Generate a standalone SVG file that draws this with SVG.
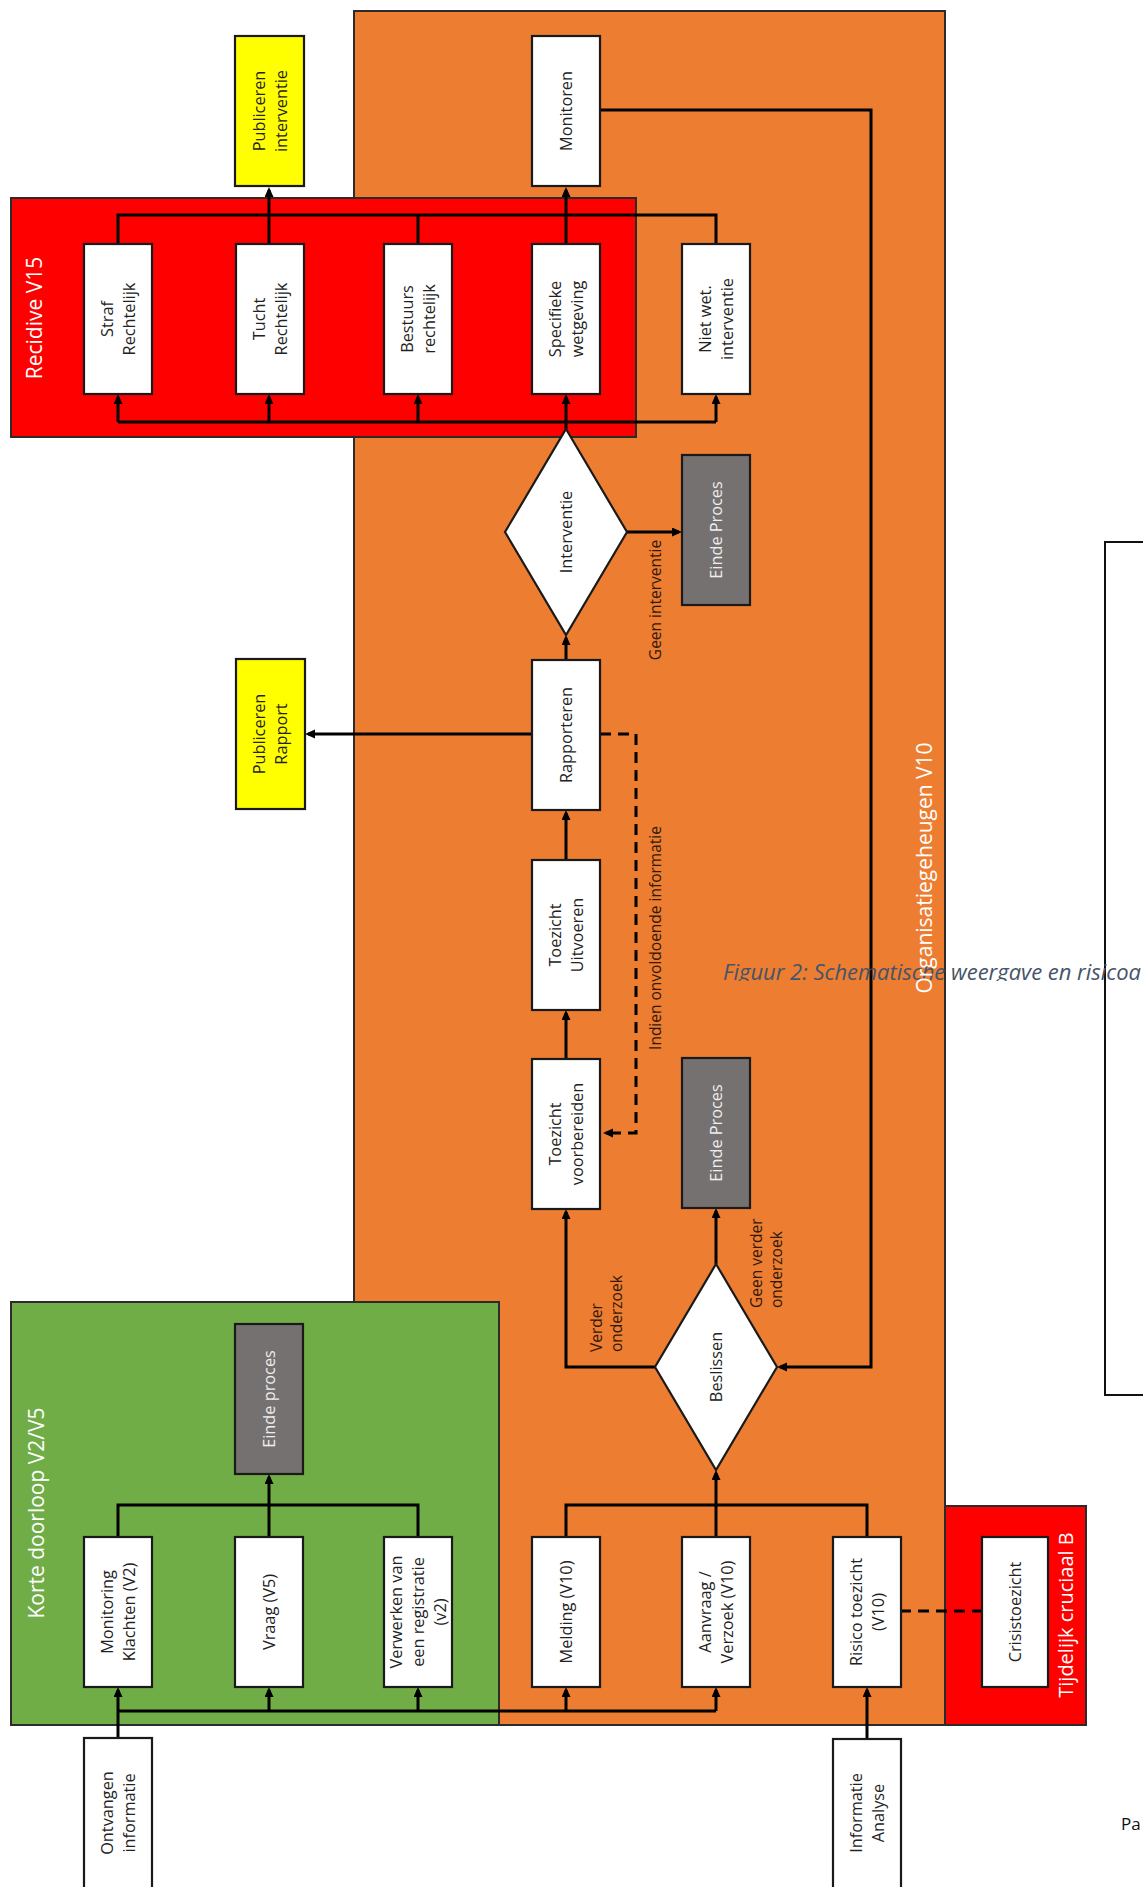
<svg xmlns="http://www.w3.org/2000/svg" width="1143" height="1887" viewBox="0 0 1143 1887">
<defs>
<marker id="ah" markerUnits="userSpaceOnUse" markerWidth="10" markerHeight="10" refX="7" refY="4.5" orient="auto"><path d="M0,0 L10,4.5 L0,9 z" fill="#000"/></marker>
<clipPath id="capclip"><rect x="0" y="900" width="1143" height="81"/></clipPath>
</defs>
<style>
.panel{stroke:#2b2b2b;stroke-width:2}
.node{fill:#fff;stroke:#1a1a1a;stroke-width:2.2}
.yel{fill:#FFFF00;stroke:#1a1a1a;stroke-width:2.2}
.end{fill:#767171;stroke:#1a1a1a;stroke-width:2.2}
.c{fill:none;stroke:#000;stroke-width:3}
.ca{fill:none;stroke:#000;stroke-width:3;marker-end:url(#ah)}
.d{fill:none;stroke:#000;stroke-width:3;stroke-dasharray:11 7}
text{font-family:"Open Sans","Liberation Sans",sans-serif}
.t{font-size:16.3px;fill:#222222;text-anchor:middle}
.te{font-size:16.3px;fill:#eeeeee;text-anchor:middle}
.h{font-size:21px;fill:#fff;text-anchor:middle}
.l{font-size:15.5px;fill:#33190a}
</style>
<g id="panels">
<rect id="organisatiegeheugen" class="panel" x="354" y="11" width="591" height="1714" fill="#ED7D31"/>
<rect id="recidive" class="panel" x="11" y="198" width="625" height="239" fill="#FF0000"/>
<rect id="korte-doorloop" class="panel" x="11" y="1302" width="488" height="423" fill="#70AD47"/>
<rect id="tijdelijk" class="panel" x="945" y="1506" width="141" height="219" fill="#FF0000"/>
<rect id="page-box" x="1105" y="542" width="60" height="853" fill="none" stroke="#111" stroke-width="2"/>
</g>
<g id="connectors">
<path class="c" d="M118,244 V215 H716 V244 M418,244 V215"/>
<path class="ca" d="M269,244 V190"/>
<path class="ca" d="M566,244 V190"/>
<path class="c" d="M118,422 H716"/>
<path class="ca" d="M118,422 V397"/>
<path class="ca" d="M269,422 V397"/>
<path class="ca" d="M418,422 V397"/>
<path class="ca" d="M716,422 V397"/>
<path class="ca" d="M566,429 V397"/>
<path class="ca" d="M627,532 H679"/>
<path class="ca" d="M566,660 V638"/>
<path class="ca" d="M532,734 H308"/>
<path class="d" d="M600,734 H636 V1133 H612"/>
<path class="ca" d="M612,1133 H606"/>
<path class="ca" d="M566,860 V813"/>
<path class="ca" d="M566,1059 V1013"/>
<path class="ca" d="M655,1367 H566 V1212"/>
<path class="ca" d="M716,1264 V1211"/>
<path class="ca" d="M600,110 H871 V1367 H780"/>
<path class="c" d="M566,1537 V1505 H867 V1537"/>
<path class="ca" d="M716,1537 V1473"/>
<path class="c" d="M118,1537 V1505 H418 V1537"/>
<path class="ca" d="M269,1537 V1477"/>
<path class="c" d="M118,1711 H716"/>
<path class="ca" d="M118,1738 V1690"/>
<path class="ca" d="M269,1711 V1690"/>
<path class="ca" d="M418,1711 V1690"/>
<path class="ca" d="M566,1711 V1690"/>
<path class="ca" d="M716,1711 V1690"/>
<path class="ca" d="M867,1739 V1690"/>
<path class="d" d="M900,1611 H982"/>
</g>
<g id="n-publiceren-interventie"><rect class="yel" x="235" y="36" width="69" height="150"/><g transform="translate(270,111) rotate(-90)"><text class="t"><tspan x="0" y="-5.5">Publiceren</tspan><tspan x="0" y="16.5">interventie</tspan></text></g></g>
<g id="n-monitoren"><rect class="node" x="532" y="36" width="68" height="150"/><g transform="translate(566,111) rotate(-90)"><text class="t" x="0" y="5.5">Monitoren</text></g></g>
<g id="n-straf"><rect class="node" x="84" y="244" width="68" height="150"/><g transform="translate(118,319) rotate(-90)"><text class="t"><tspan x="0" y="-5.5">Straf</tspan><tspan x="0" y="16.5">Rechtelijk</tspan></text></g></g>
<g id="n-tucht"><rect class="node" x="236" y="244" width="68" height="150"/><g transform="translate(270,319) rotate(-90)"><text class="t"><tspan x="0" y="-5.5">Tucht</tspan><tspan x="0" y="16.5">Rechtelijk</tspan></text></g></g>
<g id="n-bestuurs"><rect class="node" x="384" y="244" width="68" height="150"/><g transform="translate(418,319) rotate(-90)"><text class="t"><tspan x="0" y="-5.5">Bestuurs</tspan><tspan x="0" y="16.5">rechtelijk</tspan></text></g></g>
<g id="n-specifieke"><rect class="node" x="532" y="244" width="68" height="150"/><g transform="translate(566,319) rotate(-90)"><text class="t"><tspan x="0" y="-5.5">Specifieke</tspan><tspan x="0" y="16.5">wetgeving</tspan></text></g></g>
<g id="n-niet-wet"><rect class="node" x="682" y="244" width="68" height="150"/><g transform="translate(716,319) rotate(-90)"><text class="t"><tspan x="0" y="-5.5">Niet wet.</tspan><tspan x="0" y="16.5">interventie</tspan></text></g></g>
<g id="n-interventie"><polygon class="node" points="566,429 627,532 566,635 505,532"/><g transform="translate(566,532) rotate(-90)"><text class="t" x="0" y="5.5">Interventie</text></g></g>
<g id="n-einde-proces-1"><rect class="end" x="682" y="455" width="68" height="150"/><g transform="translate(716,530) rotate(-90)"><text class="te" x="0" y="5.5">Einde Proces</text></g></g>
<g id="n-publiceren-rapport"><rect class="yel" x="236" y="659" width="69" height="150"/><g transform="translate(270,734) rotate(-90)"><text class="t"><tspan x="0" y="-5.5">Publiceren</tspan><tspan x="0" y="16.5">Rapport</tspan></text></g></g>
<g id="n-rapporteren"><rect class="node" x="532" y="660" width="68" height="150"/><g transform="translate(566,735) rotate(-90)"><text class="t" x="0" y="5.5">Rapporteren</text></g></g>
<g id="n-toezicht-uitvoeren"><rect class="node" x="532" y="860" width="68" height="150"/><g transform="translate(566,935) rotate(-90)"><text class="t"><tspan x="0" y="-5.5">Toezicht</tspan><tspan x="0" y="16.5">Uitvoeren</tspan></text></g></g>
<g id="n-toezicht-voorbereiden"><rect class="node" x="532" y="1059" width="68" height="150"/><g transform="translate(566,1134) rotate(-90)"><text class="t"><tspan x="0" y="-5.5">Toezicht</tspan><tspan x="0" y="16.5">voorbereiden</tspan></text></g></g>
<g id="n-einde-proces-2"><rect class="end" x="682" y="1058" width="68" height="150"/><g transform="translate(716,1133) rotate(-90)"><text class="te" x="0" y="5.5">Einde Proces</text></g></g>
<g id="n-beslissen"><polygon class="node" points="716,1264 777,1367 716,1470 655,1367"/><g transform="translate(716,1367) rotate(-90)"><text class="t" x="0" y="5.5">Beslissen</text></g></g>
<g id="n-einde-proces-3"><rect class="end" x="235" y="1324" width="68" height="150"/><g transform="translate(269,1399) rotate(-90)"><text class="te" x="0" y="5.5">Einde proces</text></g></g>
<g id="n-monitoring"><rect class="node" x="84" y="1537" width="68" height="150"/><g transform="translate(118,1612) rotate(-90)"><text class="t"><tspan x="0" y="-5.5">Monitoring</tspan><tspan x="0" y="16.5">Klachten (V2)</tspan></text></g></g>
<g id="n-vraag"><rect class="node" x="235" y="1537" width="68" height="150"/><g transform="translate(269,1612) rotate(-90)"><text class="t" x="0" y="5.5">Vraag (V5)</text></g></g>
<g id="n-verwerken"><rect class="node" x="384" y="1537" width="68" height="150"/><g transform="translate(418,1612) rotate(-90)"><text class="t"><tspan x="0" y="-16.5">Verwerken van</tspan><tspan x="0" y="5.5">een registratie</tspan><tspan x="0" y="27.5">(v2)</tspan></text></g></g>
<g id="n-melding"><rect class="node" x="532" y="1537" width="68" height="150"/><g transform="translate(566,1612) rotate(-90)"><text class="t" x="0" y="5.5">Melding (V10)</text></g></g>
<g id="n-aanvraag"><rect class="node" x="682" y="1537" width="68" height="150"/><g transform="translate(716,1612) rotate(-90)"><text class="t"><tspan x="0" y="-5.5">Aanvraag /</tspan><tspan x="0" y="16.5">Verzoek (V10)</tspan></text></g></g>
<g id="n-risico"><rect class="node" x="833" y="1537" width="68" height="150"/><g transform="translate(867,1612) rotate(-90)"><text class="t"><tspan x="0" y="-5.5">Risico toezicht</tspan><tspan x="0" y="16.5">(V10)</tspan></text></g></g>
<g id="n-crisistoezicht"><rect class="node" x="982" y="1537" width="66" height="150"/><g transform="translate(1015,1612) rotate(-90)"><text class="t" x="0" y="5.5">Crisistoezicht</text></g></g>
<g id="n-ontvangen"><rect class="node" x="84" y="1738" width="68" height="170"/><g transform="translate(118,1813) rotate(-90)"><text class="t"><tspan x="0" y="-5.5">Ontvangen</tspan><tspan x="0" y="16.5">informatie</tspan></text></g></g>
<g id="n-informatie-analyse"><rect class="node" x="833" y="1739" width="68" height="170"/><g transform="translate(867,1813) rotate(-90)"><text class="t"><tspan x="0" y="-5.5">Informatie</tspan><tspan x="0" y="16.5">Analyse</tspan></text></g></g>
<g id="labels">
<g transform="translate(34,318) rotate(-90)"><text class="h" x="0" y="7.5">Recidive V15</text></g>
<g transform="translate(36,1513) rotate(-90)"><text class="h" x="0" y="7.5">Korte doorloop V2/V5</text></g>
<g transform="translate(1066,1615) rotate(-90)"><text class="h" x="0" y="7" style="font-size:20px">Tijdelijk cruciaal B</text></g>
<g transform="translate(656,600) rotate(-90)"><text class="l" x="0" y="5" text-anchor="middle">Geen interventie</text></g>
<g transform="translate(656,938) rotate(-90)"><text class="l" x="0" y="5" text-anchor="middle">Indien onvoldoende informatie</text></g>
<g transform="translate(607,1352) rotate(-90)"><text class="l"><tspan x="0" y="-4.7">Verder</tspan><tspan x="0" y="15.3">onderzoek</tspan></text></g>
<g transform="translate(767,1308) rotate(-90)"><text class="l"><tspan x="0" y="-4.7">Geen verder</tspan><tspan x="0" y="15.3">onderzoek</tspan></text></g>
<text x="723" y="980" clip-path="url(#capclip)" style="font-size:22px;font-style:italic;fill:#44546A" textLength="418" lengthAdjust="spacingAndGlyphs">Figuur 2: Schematische weergave en risicoa</text>
<g transform="translate(924,868) rotate(-90)"><text class="h" x="0" y="7.5">Organisatiegeheugen V10</text></g>
<text x="1121" y="1830" style="font-size:17px;fill:#111">Pa</text>
</g>
</svg>
